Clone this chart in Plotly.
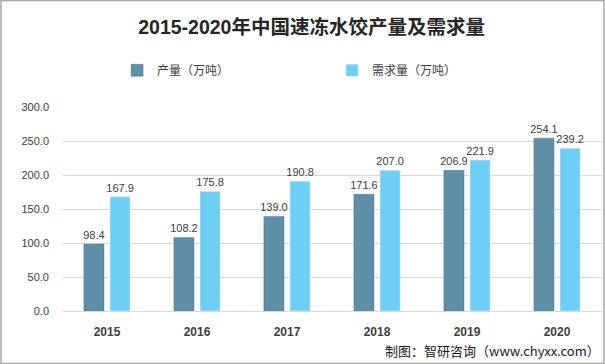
import plotly.graph_objects as go

years = ["2015", "2016", "2017", "2018", "2019", "2020"]
production = [98.4, 108.2, 139.0, 171.6, 206.9, 254.1]
demand = [167.9, 175.8, 190.8, 207.0, 221.9, 239.2]
series_names = ["产量（万吨）", "需求量（万吨）"]
y_ticks = [0, 50, 100, 150, 200, 250, 300]

FONT = "Liberation Sans, Noto Sans CJK SC, sans-serif"
TXT = "#404040"

fig = go.Figure()
fig.add_trace(go.Bar(
    x=years, y=production, name=series_names[0],
    marker=dict(color="#5E8FA6", line=dict(color="#557f94", width=0.5)),
    text=production, texttemplate="%{text:.1f}", textposition="outside",
    constraintext="none",
    textfont=dict(size=11, color=TXT, family=FONT), cliponaxis=False,
))
fig.add_trace(go.Bar(
    x=years, y=demand, name=series_names[1],
    marker=dict(color="#6DCFF6"),
    text=demand, texttemplate="%{text:.1f}", textposition="outside",
    constraintext="none",
    textfont=dict(size=11, color=TXT, family=FONT), cliponaxis=False,
))

fig.update_layout(
    width=605, height=364,
    margin=dict(l=62, r=3, t=107, b=53, autoexpand=False),
    paper_bgcolor="white", plot_bgcolor="white",
    barmode="group", bargap=0.42, bargroupgap=0.23,
    font=dict(family=FONT, color=TXT),
    showlegend=True,
    title=dict(
        text="<b>2015-2020年中国速冻水饺产量及需求量</b>",
        x=0.515, xanchor="center", y=0.925, yanchor="middle",
        font=dict(size=19.5, color="#262626", family="Liberation Sans, Noto Sans CJK SC, sans-serif"),
    ),
    legend=dict(
        orientation="h", x=0.102, xanchor="left", y=1.18, yanchor="middle",
        font=dict(size=12, color=TXT, family=FONT),
        entrywidth=170, entrywidthmode="pixels",
        itemwidth=30, traceorder="normal",
    ),
    xaxis=dict(
        tickfont=dict(size=12, color=TXT, family=FONT),
        showline=False, ticks="", showgrid=False, automargin=False,
    ),
    yaxis=dict(
        range=[0, 300], tickvals=y_ticks,
        ticktext=[f"{v:.1f}" for v in y_ticks],
        tickfont=dict(size=11, color=TXT, family=FONT),
        showgrid=True, gridcolor="#D9D9D9", gridwidth=1,
        zeroline=True, zerolinecolor="#D9D9D9", zerolinewidth=1,
        ticks="", ticklabelstandoff=12, automargin=False,
    ),
)
fig.update_xaxes(ticklabelstandoff=12)
fig.for_each_xaxis(lambda a: a.update(tickvals=years, ticktext=[f"<b>{y}</b>" for y in years]))

fig.add_annotation(
    text="制图：智研咨询（www.chyxx.com）", xref="paper", yref="paper",
    x=1.0, xanchor="right", y=-0.195, yanchor="middle", showarrow=False,
    font=dict(size=13, color="#1a1a1a", family="Noto Sans CJK SC, sans-serif"),
)
fig.add_shape(type="rect", xref="paper", yref="paper",
              x0=-0.1130, x1=1.0037, y0=-0.2574, y1=1.5221,
              line=dict(color="#A6A6A6", width=1.5), fillcolor="rgba(0,0,0,0)", layer="below")

fig.write_html("out.html", config={"displayModeBar": False},
               post_script="document.body.style.margin='0px';")
